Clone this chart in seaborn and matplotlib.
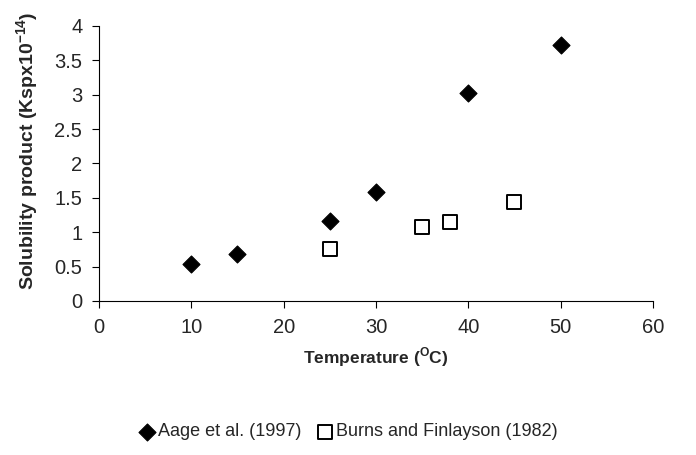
import matplotlib
matplotlib.use("Agg")
import matplotlib.pyplot as plt
import seaborn as sns
import pandas as pd

aage_temp = [10, 15, 25, 30, 40, 50]
aage_ksp = [0.54, 0.69, 1.16, 1.58, 3.03, 3.73]
burns_temp = [25, 35, 38, 45]
burns_ksp = [0.76, 1.07, 1.15, 1.44]
x_ticks = [0, 10, 20, 30, 40, 50, 60]
y_ticks = [0, 0.5, 1, 1.5, 2, 2.5, 3, 3.5, 4]
y_tick_labels = ["0", "0.5", "1", "1.5", "2", "2.5", "3", "3.5", "4"]

sns.set_style("white")
plt.rcParams["font.family"] = ["Liberation Sans", "DejaVu Sans"]
plt.rcParams["mathtext.fontset"] = "custom"
plt.rcParams["mathtext.rm"] = "Liberation Sans"
plt.rcParams["mathtext.bf"] = "Liberation Sans:bold"

df_a = pd.DataFrame({"T": aage_temp, "K": aage_ksp})
df_b = pd.DataFrame({"T": burns_temp, "K": burns_ksp})

fig = plt.figure(figsize=(6.96, 4.55), dpi=100)
ax = fig.add_axes([0.1422, 0.3385, 0.796, 0.6044])

sns.scatterplot(data=df_a, x="T", y="K", ax=ax, marker="D", s=75,
                color="black", edgecolor="black", linewidth=0.8,
                label="Aage et al. (1997)", zorder=3)
sns.scatterplot(data=df_b, x="T", y="K", ax=ax, marker="s", s=110,
                facecolor="white", edgecolor="black", linewidth=1.4,
                label="Burns and Finlayson (1982)", zorder=3)

ax.set_xlim(0, 60)
ax.set_ylim(0, 4)
ax.set_xticks(x_ticks)
ax.set_xticklabels([str(t) for t in x_ticks])
ax.set_yticks(y_ticks)
ax.set_yticklabels(y_tick_labels)
for s in ["top", "right"]:
    ax.spines[s].set_visible(False)
for s in ["left", "bottom"]:
    ax.spines[s].set_color("black")
    ax.spines[s].set_linewidth(0.8)
ax.tick_params(axis="both", direction="out", length=5, width=0.8,
               color="black", labelsize=14.5, pad=7, left=True, bottom=True)

ax.set_xlabel(r"Temperature ($^{\mathbf{O}}$C)", fontsize=12.5, fontweight="bold", labelpad=6)
ax.set_ylabel(r"Solubility product (Kspx10$^{\mathbf{-14}}$)", fontsize=14,
              fontweight="bold", labelpad=6)
ax.yaxis.set_label_coords(-0.105, 0.545)

leg = ax.legend(loc="center", ncol=2, frameon=False, fontsize=13, handletextpad=0.1,
                columnspacing=0.8, handlelength=1.0)
leg.set_bbox_to_anchor((0.5, 1 - 432 / 455), transform=fig.transFigure)

fig.savefig("out.png", dpi=100)
